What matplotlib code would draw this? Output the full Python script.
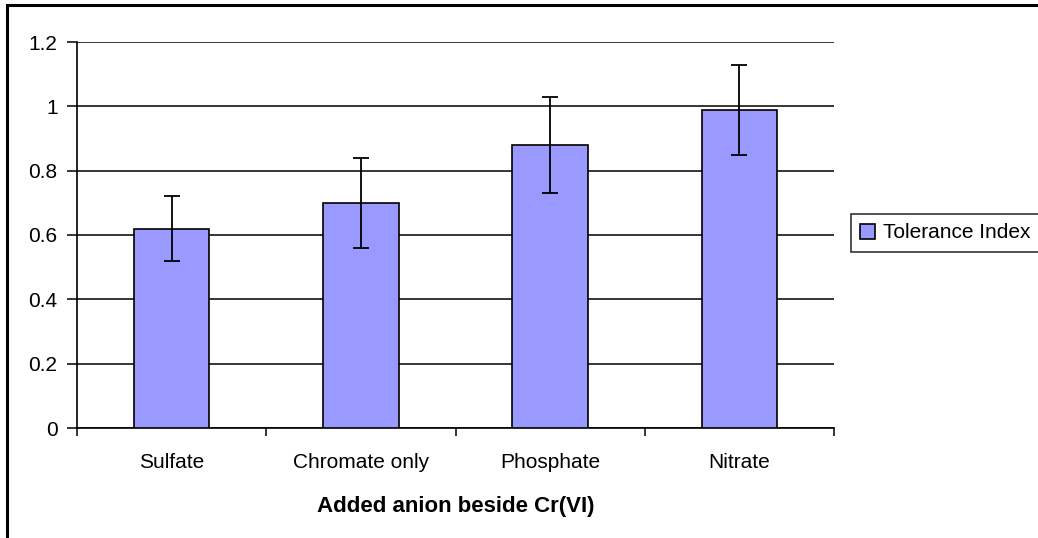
import matplotlib
matplotlib.use("Agg")
import matplotlib.pyplot as plt
from matplotlib.patches import Rectangle
import numpy as np

categories = ["Sulfate", "Chromate only", "Phosphate", "Nitrate"]
values = [0.62, 0.70, 0.88, 0.99]
errors = [0.10, 0.14, 0.15, 0.14]
series_name = "Tolerance Index"
xlabel = "Added anion beside Cr(VI)"
yticks = [0, 0.2, 0.4, 0.6, 0.8, 1.0, 1.2]
ytick_labels = ["0", "0.2", "0.4", "0.6", "0.8", "1", "1.2"]

plt.rcParams['font.family'] = ['Liberation Sans', 'DejaVu Sans']

W, H = 1038, 538
FS = 15
fig = plt.figure(figsize=(W / 100, H / 100), dpi=100)
ax = fig.add_axes([77 / W, 1 - 428 / H, (834 - 77) / W, (428 - 42) / H])

x = np.arange(len(categories))
ax.bar(x, values, width=0.4, color="#9999FF", edgecolor="black", linewidth=1.2,
       label=series_name, zorder=3)
ax.errorbar(x, values, yerr=errors, fmt="none", ecolor="black", elinewidth=1.3,
            capsize=6, capthick=1.3, zorder=4)

ax.set_xlim(-0.5, len(categories) - 0.5)
ax.set_ylim(0, 1.2)
ax.set_yticks(yticks)
ax.set_yticklabels(ytick_labels, fontsize=FS)
ax.yaxis.grid(True, color="black", linewidth=1.1, zorder=0)
ax.set_axisbelow(True)

ax.set_xticks(x)
ax.set_xticklabels(categories, fontsize=FS)
ax.set_xticks(np.arange(-0.5, len(categories), 1.0), minor=True)
ax.tick_params(axis="x", which="major", length=0, pad=18)
ax.tick_params(axis="x", which="minor", length=6, width=1.1, direction="out")
ax.tick_params(axis="y", length=7, width=1.1, direction="out", pad=7)

for s in ["top", "right"]:
    ax.spines[s].set_visible(False)
for s in ["left", "bottom"]:
    ax.spines[s].set_linewidth(1.2)

ax.set_xlabel(xlabel, fontsize=FS + 1, fontweight="bold", labelpad=17)

# outer chart border (right/bottom cut off)
fig.patches.append(Rectangle((7 / W, -0.05), 1.1, 1 - 5 / H + 0.05, transform=fig.transFigure,
                             fill=False, edgecolor="black", linewidth=2.2))

leg = fig.legend(loc="center left",
                 bbox_to_anchor=(851 / W, 1 - 233 / H, 210 / W, 0), mode="expand",
                 fontsize=FS, frameon=True, fancybox=False, edgecolor="black",
                 handlelength=0.7, handleheight=0.7, handletextpad=0.4, borderpad=0.45,
                 borderaxespad=0)
leg.get_frame().set_linewidth(1.2)

fig.savefig("out.png", dpi=100)
